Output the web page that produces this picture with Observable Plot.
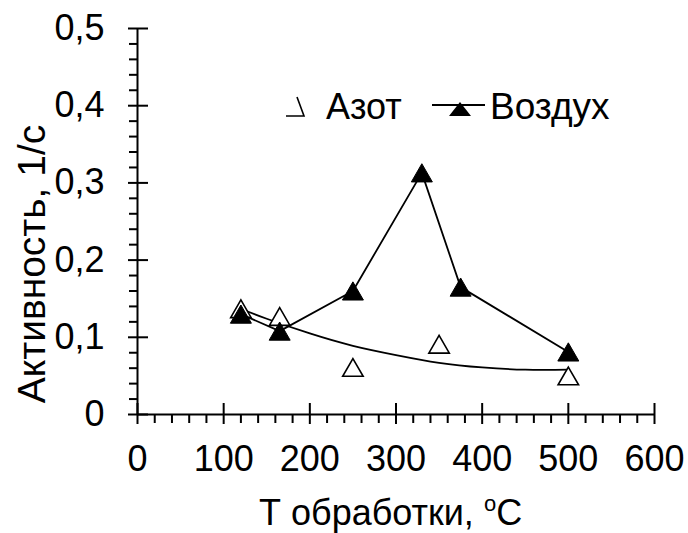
<!DOCTYPE html>
<html><head><meta charset="utf-8">
<script src="https://cdn.jsdelivr.net/npm/d3@7"></script>
<script src="https://cdn.jsdelivr.net/npm/@observablehq/plot@0.6"></script>
<style>
body{margin:0;background:#fff}
#chart{position:relative;width:688px;height:533px}
</style>
</head><body><div id="chart"></div>
<script>
// ---- data ----
const tempAir = [120, 165, 250, 330, 375, 500];
const actAir  = [0.130, 0.108, 0.160, 0.313, 0.165, 0.081];
const tempN2  = [120, 165, 250, 350, 500];
const actN2   = [0.137, 0.127, 0.061, 0.091, 0.050];
const trendT   = [120, 150, 200, 250, 300, 350, 400, 450, 500];
const trendAct = [0.137, 0.124, 0.105, 0.089, 0.077, 0.067, 0.061, 0.058, 0.058];
const seriesNames = ["Азот", "Воздух"];
const xTicks = [0, 100, 200, 300, 400, 500, 600];
const yTicks = [0, 0.1, 0.2, 0.3, 0.4, 0.5];
const xMinor = d3.range(0, 601, 20).filter(v => v % 100 !== 0);
const yMinor = d3.range(0, 51, 2).filter((v, i) => i % 5 !== 0).map(v => v / 100);
const xTitleMain = "Т обработки, ";
const xTitleSup = "o";
const xTitleUnit = "C";
const yTitle = "Активность, 1/с";

const air = tempAir.map((t, i) => ({t, a: actAir[i]}));
const n2 = tempN2.map((t, i) => ({t, a: actN2[i]}));
const trend = trendT.map((t, i) => ({t, a: trendAct[i]}));

const W = 688, H = 533, mL = 137, mR = 34, mT = 28, mB = 119;
const iw = W - mL - mR, ih = H - mT - mB;
const font = "'Liberation Sans', Arial, sans-serif";
const fmt = d => String(d).replace(".", ",");

const plot = Plot.plot({
  width: W, height: H,
  marginLeft: mL, marginRight: mR, marginTop: mT, marginBottom: mB,
  style: {fontFamily: font, fontSize: "36px", background: "#fff", color: "#000"},
  x: {domain: [0, 600]},
  y: {domain: [0, 0.5]},
  marks: [
    // axis lines
    Plot.ruleX([0], {strokeWidth: 2}),
    Plot.ruleY([0], {strokeWidth: 2}),
    // x ticks
    Plot.ruleX(xTicks, {x: d => d, insetTop: ih - 11, insetBottom: -10, strokeWidth: 2}),
    Plot.ruleX(xMinor, {x: d => d, insetTop: ih, insetBottom: -9, strokeWidth: 2}),
    // y ticks
    Plot.ruleY(yTicks, {y: d => d, insetLeft: -9, insetRight: iw - 11, strokeWidth: 2}),
    Plot.ruleY(yMinor, {y: d => d, insetLeft: -8, insetRight: iw, strokeWidth: 2}),
    Plot.axisX(xTicks, {tickSize: 0, tickPadding: 31, fontSize: 36, label: null}),
    Plot.axisY(yTicks, {tickSize: 0, tickPadding: 33, fontSize: 36, label: null, tickFormat: fmt}),
    // series
    Plot.line(trend, {x: "t", y: "a", curve: "natural", stroke: "#000", strokeWidth: 1.8}),
    Plot.dot(n2, {x: "t", y: "a", symbol: "triangle", r: 7.6, dy: 3, fill: "#fff", stroke: "#000", strokeWidth: 1.6}),
    Plot.line(air, {x: "t", y: "a", stroke: "#000", strokeWidth: 1.8}),
    Plot.dot(air, {x: "t", y: "a", symbol: "triangle", r: 7.8, dy: 3, fill: "#000", stroke: "#000", strokeWidth: 1})
  ]
});
document.getElementById("chart").appendChild(plot);

const svg = d3.select(plot);
// axis titles
const xt = svg.append("text").attr("x", 259).attr("y", 525).attr("text-anchor", "start")
  .attr("font-family", font).attr("font-size", 36).attr("fill", "#000");
xt.append("tspan").text(xTitleMain);
xt.append("tspan").attr("font-size", 22).attr("dy", -14).text(xTitleSup);
xt.append("tspan").attr("dy", 14).text(xTitleUnit);

svg.append("text").attr("transform", `translate(45,264) rotate(-90)`)
  .attr("text-anchor", "middle").attr("font-family", font).attr("font-size", 39)
  .attr("fill", "#000").text(yTitle);

// legend
const lg = svg.append("g");
lg.append("path").attr("d", "M286,116H304L297,97").attr("fill", "none").attr("stroke", "#000").attr("stroke-width", 1.6);
lg.append("text").attr("x", 326).attr("y", 119).attr("text-anchor", "start").attr("font-family", font).attr("font-size", 36).attr("fill", "#000").text(seriesNames[0]);
lg.append("line").attr("x1", 432).attr("x2", 485).attr("y1", 105).attr("y2", 105).attr("stroke", "#000").attr("stroke-width", 1.8);
lg.append("path").attr("d", "M460,102L471,116H449Z").attr("fill", "#000");
lg.append("text").attr("x", 490).attr("y", 119).attr("text-anchor", "start").attr("font-family", font).attr("font-size", 37).attr("fill", "#000").text(seriesNames[1]);
</script>
</body></html>
